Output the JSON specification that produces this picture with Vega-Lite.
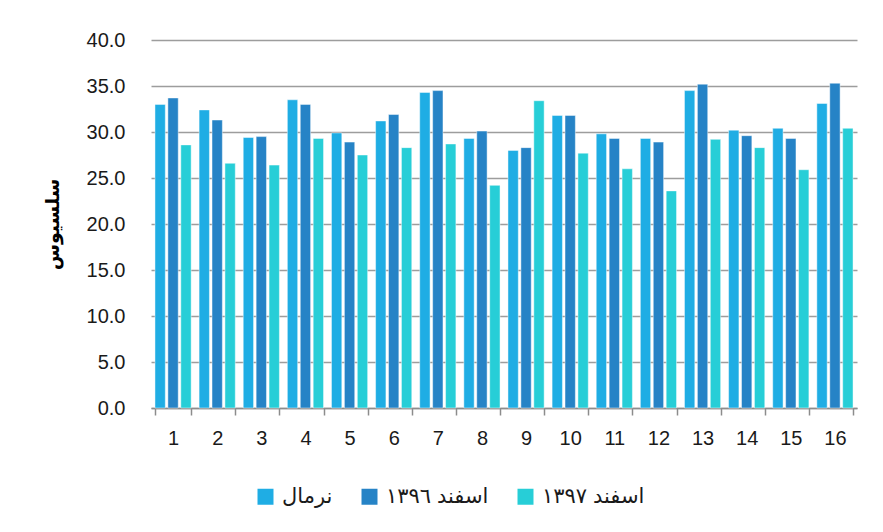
{
  "$schema": "https://vega.github.io/schema/vega-lite/v6.json",
  "autosize": "none",
  "width": 706,
  "height": 368,
  "padding": {"left": 151, "top": 40, "right": 26, "bottom": 124},
  "background": "white",
  "config": {
    "view": {"stroke": null},
    "font": "Liberation Sans, DejaVu Sans, sans-serif"
  },
  "data": {
    "values": [
      {"station": 1, "series": "نرمال", "v": 33.0},
      {"station": 1, "series": "اسفند ١٣٩٦", "v": 33.7},
      {"station": 1, "series": "اسفند ١٣٩٧", "v": 28.6},
      {"station": 2, "series": "نرمال", "v": 32.4},
      {"station": 2, "series": "اسفند ١٣٩٦", "v": 31.3},
      {"station": 2, "series": "اسفند ١٣٩٧", "v": 26.6},
      {"station": 3, "series": "نرمال", "v": 29.4},
      {"station": 3, "series": "اسفند ١٣٩٦", "v": 29.5},
      {"station": 3, "series": "اسفند ١٣٩٧", "v": 26.4},
      {"station": 4, "series": "نرمال", "v": 33.5},
      {"station": 4, "series": "اسفند ١٣٩٦", "v": 33.0},
      {"station": 4, "series": "اسفند ١٣٩٧", "v": 29.3},
      {"station": 5, "series": "نرمال", "v": 29.9},
      {"station": 5, "series": "اسفند ١٣٩٦", "v": 28.9},
      {"station": 5, "series": "اسفند ١٣٩٧", "v": 27.5},
      {"station": 6, "series": "نرمال", "v": 31.2},
      {"station": 6, "series": "اسفند ١٣٩٦", "v": 31.9},
      {"station": 6, "series": "اسفند ١٣٩٧", "v": 28.3},
      {"station": 7, "series": "نرمال", "v": 34.3},
      {"station": 7, "series": "اسفند ١٣٩٦", "v": 34.5},
      {"station": 7, "series": "اسفند ١٣٩٧", "v": 28.7},
      {"station": 8, "series": "نرمال", "v": 29.3},
      {"station": 8, "series": "اسفند ١٣٩٦", "v": 30.1},
      {"station": 8, "series": "اسفند ١٣٩٧", "v": 24.2},
      {"station": 9, "series": "نرمال", "v": 28.0},
      {"station": 9, "series": "اسفند ١٣٩٦", "v": 28.3},
      {"station": 9, "series": "اسفند ١٣٩٧", "v": 33.4},
      {"station": 10, "series": "نرمال", "v": 31.8},
      {"station": 10, "series": "اسفند ١٣٩٦", "v": 31.8},
      {"station": 10, "series": "اسفند ١٣٩٧", "v": 27.7},
      {"station": 11, "series": "نرمال", "v": 29.8},
      {"station": 11, "series": "اسفند ١٣٩٦", "v": 29.3},
      {"station": 11, "series": "اسفند ١٣٩٧", "v": 26.0},
      {"station": 12, "series": "نرمال", "v": 29.3},
      {"station": 12, "series": "اسفند ١٣٩٦", "v": 28.9},
      {"station": 12, "series": "اسفند ١٣٩٧", "v": 23.6},
      {"station": 13, "series": "نرمال", "v": 34.5},
      {"station": 13, "series": "اسفند ١٣٩٦", "v": 35.2},
      {"station": 13, "series": "اسفند ١٣٩٧", "v": 29.2},
      {"station": 14, "series": "نرمال", "v": 30.2},
      {"station": 14, "series": "اسفند ١٣٩٦", "v": 29.6},
      {"station": 14, "series": "اسفند ١٣٩٧", "v": 28.3},
      {"station": 15, "series": "نرمال", "v": 30.4},
      {"station": 15, "series": "اسفند ١٣٩٦", "v": 29.3},
      {"station": 15, "series": "اسفند ١٣٩٧", "v": 25.9},
      {"station": 16, "series": "نرمال", "v": 33.1},
      {"station": 16, "series": "اسفند ١٣٩٦", "v": 35.3},
      {"station": 16, "series": "اسفند ١٣٩٧", "v": 30.4}
    ]
  },
  "mark": {"type": "bar", "stroke": "#ffffff", "strokeOpacity": 0.45, "strokeWidth": 1},
  "encoding": {
    "x": {
      "field": "station",
      "type": "ordinal",
      "scale": {"paddingInner": 0.18, "paddingOuter": 0.09},
      "axis": {
        "title": null,
        "labelAngle": 0,
        "labelFontSize": 20,
        "labelColor": "#1a1a1a",
        "labelPadding": 13,
        "tickBand": "extent",
        "tickSize": 7,
        "tickColor": "#8c8c8c",
        "tickWidth": 1.5,
        "domainColor": "#8c8c8c",
        "domainWidth": 1.5,
        "grid": false
      }
    },
    "xOffset": {
      "field": "series",
      "type": "nominal",
      "sort": ["نرمال", "اسفند ١٣٩٦", "اسفند ١٣٩٧"],
      "scale": {"paddingInner": 0.2}
    },
    "y": {
      "field": "v",
      "type": "quantitative",
      "scale": {"domain": [0, 40]},
      "axis": {
        "title": "سلسیوس",
        "titleFontSize": 19,
        "titleFontWeight": "bold",
        "titleColor": "#000000",
        "titlePadding": 24,
        "values": [0, 5, 10, 15, 20, 25, 30, 35, 40],
        "format": ".1f",
        "labelFontSize": 20,
        "labelColor": "#1a1a1a",
        "labelPadding": 26,
        "ticks": false,
        "domain": false,
        "grid": true,
        "gridColor": "#9d9d9d",
        "gridWidth": 1.6
      }
    },
    "color": {
      "field": "series",
      "type": "nominal",
      "sort": ["نرمال", "اسفند ١٣٩٦", "اسفند ١٣٩٧"],
      "scale": {
        "domain": ["نرمال", "اسفند ١٣٩٦", "اسفند ١٣٩٧"],
        "range": ["#1fade4", "#2683c6", "#27ced7"]
      },
      "legend": {
        "title": null,
        "orient": "none",
        "legendX": 104,
        "legendY": 446,
        "direction": "horizontal",
        "symbolType": "square",
        "symbolSize": 256,
        "symbolStrokeWidth": 0,
        "labelFontSize": 21,
        "labelColor": "#1a1a1a",
        "labelOffset": 6,
        "columnPadding": 26
      }
    }
  }
}
